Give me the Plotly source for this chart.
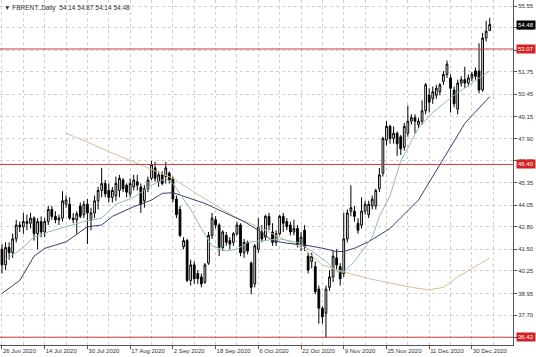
import plotly.graph_objects as go

# ---------------- data ----------------
opens = [41.5,40.6,41.6,41.3,42.1,42.9,42.8,43.1,43.0,43.3,42.4,43.1,42.5,43.1,43.8,43.4,43.2,43.3,44.1,44.1,
         43.3,43.2,44.0,43.5,44.1,43.2,43.6,44.3,44.9,45.3,44.9,44.5,44.6,44.9,45.5,45.2,44.7,45.1,45.4,45.1,
         44.3,45.0,45.6,46.2,45.4,45.8,45.7,45.9,45.6,44.4,43.8,41.65,42.0,39.7,40.6,40.1,39.9,39.6,40.7,42.3,
         43.2,42.9,41.6,42.3,42.0,41.9,42.4,42.9,41.3,41.9,40.7,39.5,41.5,42.5,42.2,43.4,42.5,41.9,42.4,43.4,
         43.1,42.9,42.5,42.7,41.85,42.6,41.1,40.8,40.5,39.2,38.1,37.8,39.3,39.9,41.0,40.5,40.1,42.1,43.7,43.7,
         43.0,42.9,43.7,43.5,44.0,44.0,45.0,45.9,47.8,48.6,47.9,48.2,48.0,47.4,48.2,48.9,49.1,48.7,48.9,49.5,
         50.4,50.2,50.4,50.6,51.2,51.6,51.4,50.7,49.6,51.1,51.3,51.1,51.4,51.8,51.8,50.7,53.7,54.14]
highs = [41.8,41.9,41.9,42.4,43.2,43.1,43.6,43.5,43.6,43.4,43.3,43.4,43.3,44.0,44.0,43.7,43.5,44.85,44.6,44.5,
         43.6,43.7,44.2,44.3,44.4,43.9,44.6,45.1,46.2,45.5,45.3,45.1,45.7,45.8,45.6,45.3,45.6,45.8,45.8,45.3,
         45.2,45.7,46.6,46.55,46.0,46.0,46.55,46.0,45.7,44.6,44.0,42.2,42.1,40.9,40.8,40.3,40.1,40.7,42.5,43.6,
         43.4,43.0,42.6,42.5,42.2,42.5,43.1,43.0,42.1,42.0,40.8,41.8,43.3,42.9,43.5,43.6,43.0,42.6,43.5,43.6,
         43.3,43.1,43.2,42.9,42.5,42.9,41.3,41.3,40.8,39.4,38.2,39.4,40.3,41.4,41.5,40.7,43.6,43.8,45.2,44.0,
         43.3,44.5,44.3,44.3,44.6,45.0,46.2,48.0,48.9,48.7,48.6,48.3,48.1,48.8,49.8,49.3,49.3,49.1,50.1,51.1,
         50.8,50.9,51.0,51.1,51.8,52.4,51.6,50.9,51.3,51.5,52.05,51.6,51.75,52.0,53.4,54.0,54.7,54.87]
lows = [40.1,40.3,40.9,41.0,41.9,42.5,42.4,42.6,42.7,42.0,41.5,42.2,42.2,42.9,43.2,43.0,42.9,43.1,43.9,43.2,
        43.0,42.4,43.3,43.3,41.8,42.6,43.3,43.8,44.5,44.5,44.2,44.2,44.3,44.5,44.8,44.5,44.5,44.9,44.9,43.6,
        43.9,44.8,45.5,45.4,45.1,45.2,45.3,45.3,44.2,43.3,42.2,41.5,39.6,39.4,39.5,39.5,39.3,39.5,40.6,42.1,
        42.7,41.1,41.4,41.7,41.5,41.7,42.3,41.1,41.0,41.2,38.9,39.3,41.3,41.9,42.0,42.6,41.7,41.7,42.3,42.5,
        42.6,42.3,42.3,41.6,41.4,41.4,40.1,40.4,38.9,37.2,37.2,36.42,39.1,39.6,40.3,39.4,39.9,41.9,43.4,43.1,
        42.4,42.7,43.5,43.3,43.8,43.8,44.8,45.7,47.5,47.6,47.6,46.9,46.95,47.2,48.0,48.7,48.2,48.5,48.7,49.3,
        49.4,49.9,50.2,50.4,51.0,51.4,49.4,49.7,49.3,50.9,50.8,50.9,51.2,51.3,50.5,50.6,53.5,54.14]
closes = [40.6,41.6,41.3,42.1,42.9,42.8,43.1,43.0,43.3,42.4,43.1,42.5,43.1,43.8,43.4,43.2,43.3,44.3,44.35,43.3,
          43.2,43.55,43.4,44.1,43.6,43.6,44.3,44.9,45.3,44.7,44.5,44.9,45.3,45.6,45.0,44.8,45.3,45.5,45.2,44.1,
          45.0,45.5,46.4,45.6,45.8,45.3,46.2,45.5,44.4,43.5,42.3,42.0,39.7,40.6,39.8,39.8,39.5,40.6,42.3,43.3,
          42.9,41.6,42.5,41.9,41.8,42.4,42.9,41.3,41.9,41.4,39.3,41.7,42.8,42.1,43.4,42.9,41.9,42.4,43.4,43.0,
          42.8,42.5,42.7,41.8,42.2,41.65,40.3,41.1,39.05,38.1,37.6,39.2,39.9,41.1,40.6,39.8,42.1,43.6,43.9,43.4,
          42.6,43.7,44.1,44.1,44.4,44.9,45.8,47.9,48.6,47.9,48.2,47.6,47.3,48.6,48.9,49.1,48.9,48.9,49.5,51.0,
          50.0,50.6,50.8,51.0,51.6,52.2,50.8,49.9,51.1,51.3,51.1,51.4,51.6,51.5,50.7,53.7,54.1,54.48]

# moving averages (bar index, value)
ma_fast_x = [1,5,9,13,18,23,28,32,37,42,46,48,50,53,56,59,63,66,69,73,78,83,87,91,94,96,99,104,106,109,112,117,121,127,132,137]
ma_fast_y = [40.9,41.45,42.2,42.5,42.8,43.1,43.3,44.1,44.5,45.2,45.6,45.3,44.7,43.8,42.7,41.7,41.4,41.5,41.9,42.0,42.1,41.9,41.4,40.8,40.2,40.2,40.8,42.2,43.4,44.6,46.6,48.5,49.4,50.4,51.1,51.8]
ma_mid_x = [0,5,9,12,15,18,24,28,31,37,42,45,48,52,57,60,64,68,72,76,80,85,90,94,96,99,103,106,109,117,125,130,137]
ma_mid_y = [38.95,39.7,41.1,41.55,41.74,41.93,42.8,42.9,43.4,43.96,44.34,44.73,44.77,44.5,44.15,43.86,43.5,43.1,42.6,42.0,41.85,41.75,41.56,41.37,41.37,41.56,41.94,42.3,42.7,44.35,47.04,48.77,50.32]
ma_slow_x = [18,24,29,37,42,48,54,60,66,72,78,85,90,96,102,109,115,120,124,128,132,137]
ma_slow_y = [48.2,47.7,47.23,46.56,46.1,45.6,44.8,44.05,43.3,42.8,42.2,41.5,40.6,40.2,39.85,39.53,39.3,39.15,39.3,39.9,40.4,41.0]

tick_idx = [0,12,24,36,48,60,72,84,96,108,120,132]
tick_labels = ["26 Jun 2020","14 Jul 2020","30 Jul 2020","17 Aug 2020","2 Sep 2020","18 Sep 2020",
               "6 Oct 2020","22 Oct 2020","9 Nov 2020","25 Nov 2020","11 Dec 2020","30 Dec 2020"]
price_ticks = [55.55,54.30,53.00,51.75,50.45,49.15,47.90,46.60,45.35,44.05,42.80,41.50,40.25,38.95,37.70,36.40]
levels = [53.07,46.40,36.42]
last_price = 54.48

bars = list(range(len(closes)))

FONT = "Liberation Sans"
fig = go.Figure()

fig.add_trace(go.Scatter(x=ma_slow_x, y=ma_slow_y, mode="lines",
                         line=dict(color="#d2bf9a", width=1), hoverinfo="skip"))
fig.add_trace(go.Scatter(x=ma_mid_x, y=ma_mid_y, mode="lines",
                         line=dict(color="#3a3f72", width=1), hoverinfo="skip"))
fig.add_trace(go.Scatter(x=ma_fast_x, y=ma_fast_y, mode="lines",
                         line=dict(color="#8fbcb0", width=1), hoverinfo="skip"))

fig.add_trace(go.Candlestick(
    x=bars, open=opens, high=highs, low=lows, close=closes,
    increasing=dict(line=dict(color="#000000", width=1), fillcolor="#ffffff"),
    decreasing=dict(line=dict(color="#000000", width=1), fillcolor="#000000"),
    whiskerwidth=0, hoverinfo="skip"))

for lv in levels:
    fig.add_shape(type="line", xref="paper", x0=0, x1=1, yref="y", y0=lv, y1=lv,
                  line=dict(color="#cc3b3b", width=1))
    fig.add_annotation(xref="paper", x=1.0, xanchor="left", yref="y", y=lv,
                       text=f"{lv:.2f}", showarrow=False, bgcolor="#d42020",
                       font=dict(color="white", size=6, family=FONT), borderpad=1, xshift=3)

fig.add_annotation(xref="paper", x=1.0, xanchor="left", yref="y", y=last_price,
                   text=f"{last_price:.2f}", showarrow=False, bgcolor="#000000",
                   font=dict(color="white", size=6, family=FONT), borderpad=1, xshift=3)

fig.add_annotation(xref="paper", yref="paper", x=0.004, y=0.995, xanchor="left", yanchor="top",
                   text="▼ FBRENT.,Daily  54.14 54.87 54.14 54.48", showarrow=False,
                   font=dict(color="#333333", size=6.5, family=FONT))

fig.update_layout(
    width=536, height=357,
    margin=dict(l=0, r=23, t=0, b=12, autoexpand=False),
    paper_bgcolor="white", plot_bgcolor="white",
    showlegend=False,
    xaxis=dict(range=[-0.56, 143.54], tickmode="array", tickvals=tick_idx, ticktext=tick_labels,
               tickangle=0, automargin=False,
               ticks="outside", ticklen=3, tickcolor="#555", ticklabelposition="outside right",
               tickfont=dict(size=6, family=FONT, color="#333"),
               showgrid=True, gridcolor="#d0d0d0", griddash="dot", gridwidth=1,
               minor=dict(tickmode="linear", tick0=0, dtick=6, showgrid=True, gridcolor="#d0d0d0",
                          griddash="dot", ticks=""),
               showline=True, linecolor="#555", linewidth=1, mirror=False,
               rangeslider=dict(visible=False), zeroline=False, fixedrange=True),
    yaxis=dict(range=[35.97, 55.9], side="right", tickmode="array", tickvals=price_ticks,
               ticktext=[f"{v:.2f}" for v in price_ticks], automargin=False,
               ticks="outside", ticklen=3, tickcolor="#555",
               tickfont=dict(size=6, family=FONT, color="#333"),
               showgrid=True, gridcolor="#d0d0d0", griddash="dot", gridwidth=1,
               showline=True, linecolor="#555", linewidth=1, zeroline=False, fixedrange=True),
)

fig.write_html("out.html")
